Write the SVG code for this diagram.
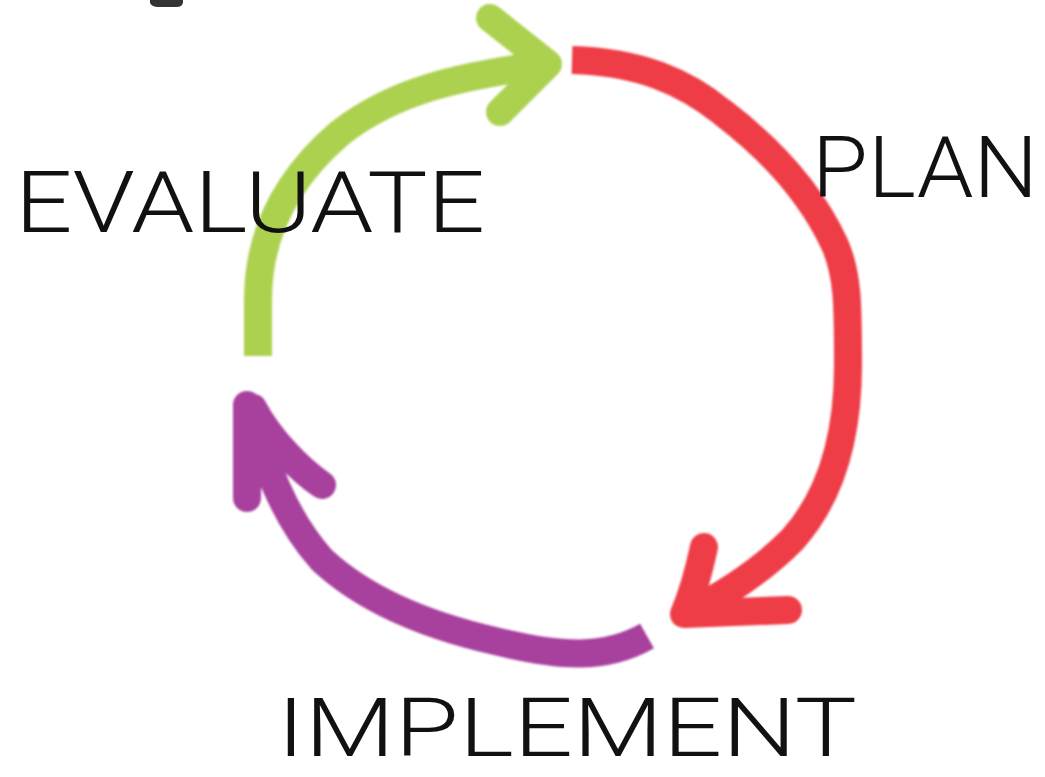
<svg xmlns="http://www.w3.org/2000/svg" width="1045" height="777" viewBox="0 0 1045 777">
<style>
.lbl{font-family:Roboto,"Open Sans","Liberation Sans",sans-serif;fill:#111;font-weight:300}
.stroke{fill:none;stroke-linecap:round;stroke-linejoin:round;stroke-width:28}
.arc{stroke-linecap:butt}
.g{stroke:#acd150}
.r{stroke:#ee3e46}
.p{stroke:#a8419e}
</style>
<defs>
<filter id="soft" x="-5%" y="-5%" width="110%" height="110%"><feGaussianBlur stdDeviation="0.9"/></filter>
</defs>
<rect width="1045" height="777" fill="#fff"/>
<path d="M150 0 L150 3 Q152 7 158 7 L176 7 Q183 7 183 2 L183 0 Z" fill="#333"/>
<g id="connectors" filter="url(#soft)">
<g id="evaluate-to-plan">
<path class="stroke arc g" stroke-width="30" d="M258 356 L258 300 C258 235 285 180 340 133 C395 90 460 76 548 64"/>
<path class="stroke g" stroke-width="30" d="M490 18 L548 64 L500 112"/>
</g>
<g id="plan-to-implement">
<path class="stroke arc r" d="M572 60 C640 62 685 82 722 112 C772 150 812 195 835 245 C848 275 848 305 848 365 C848 440 830 498 792 540 C760 572 722 596 686 614"/>
<path class="stroke r" d="M704 547 C698 575 690 600 684 614 L788 610"/>
</g>
<g id="implement-to-evaluate">
<path class="stroke arc p" d="M647 636 C605 660 560 657 495 641 C425 625 365 600 322 560 C295 530 276 492 262 450 L252 415"/>
<path class="stroke p" stroke-width="30" d="M247 405 L247 498 M253 408 C270 440 300 470 322 485"/>
</g>
</g>
<g id="node-evaluate"><text class="lbl" x="15" y="232" font-size="86" textLength="470" lengthAdjust="spacingAndGlyphs">EVALUATE</text></g>
<g id="node-plan"><text class="lbl" x="812" y="197" font-size="86" textLength="226" lengthAdjust="spacingAndGlyphs">PLAN</text></g>
<g id="node-implement"><text class="lbl" x="277" y="756" font-size="82" textLength="580" lengthAdjust="spacingAndGlyphs">IMPLEMENT</text></g>
</svg>
